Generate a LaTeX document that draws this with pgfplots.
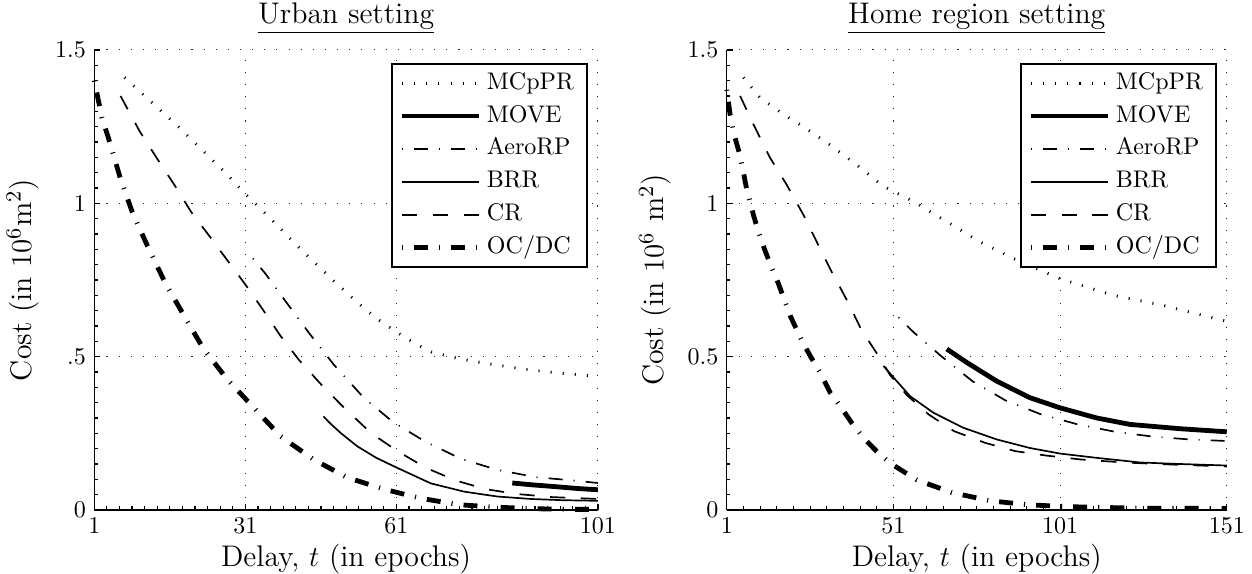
\documentclass[border=0pt]{standalone}
\usepackage{pgfplots}
\pgfplotsset{compat=1.18}
\pgfplotsset{
  base/.style={
    scale only axis, height=191.4pt,
    ymin=0, ymax=1.5,
    axis x line*=bottom, axis y line*=left,
    tick align=inside,
    major tick length=2.5pt, minor tick length=1.5pt,
    grid=major,
    major grid style={black!85, line width=0.45pt, dash pattern=on 0.45pt off 4.6pt},
    minor grid style={draw=none},
    axis line style={line width=0.6pt},
    every tick/.style={black, line width=0.5pt},
    tick label style={font=\fontsize{10}{12}\selectfont},
    label style={font=\fontsize{12.4}{14}\selectfont},
    title style={font=\fontsize{12.4}{14}\selectfont, yshift=-3pt},
    xlabel style={yshift=2.8pt},
    clip=false,
    legend cell align=left,
    legend image code/.code={\draw[##1] (0pt,0pt) -- (32pt,0pt);},
    legend style={draw=black, line width=0.8pt, at={(0.98,0.971)}, anchor=north east,
      font=\fontsize{10}{12}\selectfont, inner xsep=3.1pt, inner ysep=1pt, row sep=0pt,
      nodes={text height=7pt, text depth=2pt, inner sep=2.35pt}},
  },
  mcp/.style={black, line width=1.2pt, dash pattern=on 0.45pt off 4.6pt},
  move/.style={black, line width=2pt},
  aero/.style={black, line width=0.7pt, dash pattern=on 0.45pt off 4.6pt on 5.8pt off 4.6pt},
  brr/.style={black, line width=0.7pt},
  cr/.style={black, line width=0.7pt, dash pattern=on 6.3pt off 6.5pt},
  ocdc/.style={black, line width=2pt, dash pattern=on 0.45pt off 4.6pt on 5.8pt off 4.6pt},
}
\begin{document}
\begin{tikzpicture}
\useasboundingbox (-39.23pt,-26.21pt) rectangle (481.6pt,212.16pt);
\begin{axis}[base, at={(0pt,0pt)}, anchor=south west, width=209.5pt,
  xmin=1, xmax=101,
  xtick={1,31,61,101}, ytick={0,0.5,1,1.5}, yticklabels={0,.5,1,1.5},
  minor xtick={3.5,6,...,98.5}, minor ytick={0.05,0.1,...,1.45},
  title={\underline{Urban setting}},
  xlabel={Delay, $t$ (in epochs)},
  ylabel={Cost (in $10^6$m$^2$)},
]
\addplot[mcp] coordinates {(7,1.41)(10,1.365)(13,1.32)(18,1.245)(22,1.18)(27,1.10)(31,1.03)(36,0.95)(42,0.85)(48,0.755)(53,0.68)(57,0.625)(61,0.58)(65,0.54)(68,0.515)(73,0.495)(78,0.48)(86,0.46)(94,0.445)(101,0.436)};
\addlegendentry{MCpPR}
\addplot[move] coordinates {(84,0.088)(88,0.082)(92.7,0.076)(97,0.07)(101,0.066)};
\addlegendentry{MOVE}
\addplot[aero] coordinates {(32.5,0.82)(35,0.77)(39,0.68)(43.5,0.58)(48.5,0.475)(54.5,0.366)(60.3,0.287)(66.6,0.224)(73.8,0.167)(81,0.131)(88.7,0.107)(96.3,0.096)(101,0.088)};
\addlegendentry{AeroRP}
\addplot[brr] coordinates {(46.5,0.305)(48,0.28)(50,0.25)(53.2,0.208)(57,0.17)(61.2,0.137)(67.8,0.087)(74.4,0.06)(81,0.044)(87.7,0.036)(94,0.032)(101,0.030)};
\addlegendentry{BRR}
\addplot[cr] coordinates {(6.2,1.35)(10,1.235)(13.3,1.15)(16.9,1.06)(20.3,0.97)(24,0.89)(27.6,0.81)(31,0.735)(34.4,0.655)(38,0.567)(41.6,0.49)(46,0.41)(50.5,0.335)(56,0.25)(61.3,0.191)(66.9,0.137)(72.8,0.096)(78.7,0.068)(85,0.052)(92,0.042)(101,0.036)};
\addlegendentry{CR}
\addplot[ocdc] coordinates {(1,1.40)(2.5,1.28)(3.8,1.213)(6.2,1.08)(8.5,0.973)(11.5,0.863)(15,0.743)(18.8,0.634)(22.7,0.525)(27.4,0.426)(32.7,0.333)(38,0.24)(44.6,0.164)(51.2,0.106)(58.5,0.068)(65.8,0.038)(73.6,0.017)(81,0.009)(89,0.004)(96,0.002)(101,0.002)};
\addlegendentry{OC/DC}
\end{axis}
\begin{axis}[base, at={(263.1pt,0pt)}, anchor=south west, width=208pt,
  xmin=1, xmax=151,
  xtick={1,51,101,151}, ytick={0,0.5,1,1.5}, yticklabels={0,0.5,1,1.5},
  minor xtick={6,11,...,146}, minor ytick={0.05,0.1,...,1.45},
  title={\underline{Home region setting}},
  xlabel={Delay, $t$ (in epochs)},
  ylabel={Cost (in $10^6$ m$^2$)},
]
\addplot[mcp] coordinates {(6,1.41)(11,1.344)(18,1.29)(26,1.235)(32,1.19)(40,1.125)(48,1.055)(57,1.006)(67,0.94)(77,0.874)(87,0.82)(101,0.754)(117,0.70)(132,0.667)(151,0.615)};
\addlegendentry{MCpPR}
\addplot[move] coordinates {(67,0.525)(73,0.481)(82,0.42)(92,0.366)(101,0.333)(112,0.30)(122,0.279)(137,0.265)(151,0.255)};
\addlegendentry{MOVE}
\addplot[aero] coordinates {(52.5,0.628)(57,0.58)(65.5,0.50)(74.7,0.42)(84.5,0.358)(95,0.313)(106,0.28)(117.5,0.255)(129,0.239)(140,0.23)(151,0.225)};
\addlegendentry{AeroRP}
\addplot[brr] coordinates {(48,0.47)(52,0.42)(56,0.371)(63,0.317)(72,0.268)(82,0.23)(92,0.202)(101,0.184)(112,0.17)(125,0.155)(137,0.15)(151,0.145)};
\addlegendentry{BRR}
\addplot[cr] coordinates {(5,1.35)(9.5,1.246)(14,1.148)(19,1.06)(24,0.962)(28,0.874)(32.5,0.776)(37.2,0.681)(41.5,0.585)(46.5,0.503)(50,0.44)(55,0.375)(61.5,0.312)(69.2,0.257)(78.5,0.219)(87.5,0.192)(97.2,0.177)(107,0.165)(120,0.155)(135,0.148)(151,0.142)};
\addlegendentry{CR}
\addplot[ocdc] coordinates {(1,1.37)(2,1.29)(3.5,1.213)(5,1.155)(6,1.10)(7,1.045)(9,0.962)(10.5,0.907)(12.5,0.845)(14.5,0.79)(16.5,0.738)(20,0.634)(23.5,0.552)(26,0.503)(29,0.448)(32,0.383)(35,0.339)(38.5,0.284)(42,0.235)(46,0.191)(50,0.153)(58,0.098)(68.5,0.057)(80,0.03)(91.5,0.017)(103,0.011)(115,0.008)(126.5,0.006)(151,0.005)};
\addlegendentry{OC/DC}
\end{axis}
\end{tikzpicture}
\end{document}
